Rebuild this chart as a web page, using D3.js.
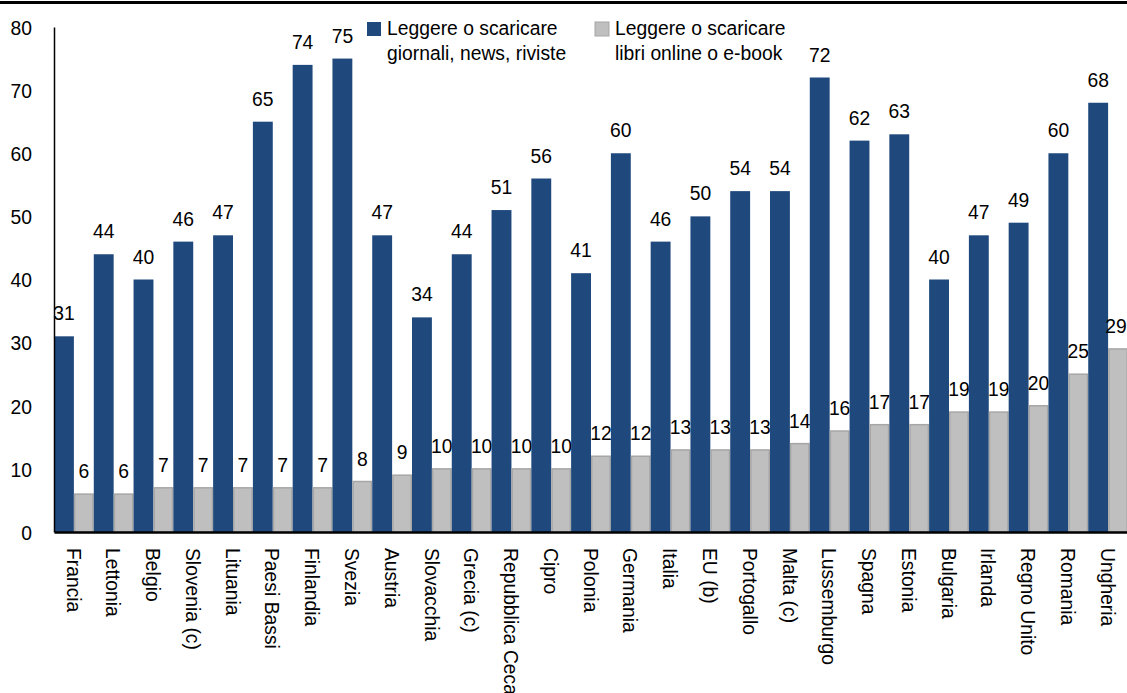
<!DOCTYPE html>
<html lang="it">
<head>
<meta charset="UTF-8">
<title>Leggere o scaricare</title>
<script src="https://d3js.org/d3.v7.min.js"></script>
<style>
  body { margin: 0; background: #fff; }
  text { font-family: "Liberation Sans", Arial, sans-serif; fill: #000; }
</style>
</head>
<body>
<script>
  const width = 1127;
  const height = 693;

  const countries = ["Francia", "Lettonia", "Belgio", "Slovenia (c)", "Lituania", "Paesi Bassi",
    "Finlandia", "Svezia", "Austria", "Slovacchia", "Grecia (c)", "Repubblica Ceca", "Cipro",
    "Polonia", "Germania", "Italia", "EU (b)", "Portogallo", "Malta (c)", "Lussemburgo",
    "Spagna", "Estonia", "Bulgaria", "Irlanda", "Regno Unito", "Romania", "Ungheria"];
  const news = [31, 44, 40, 46, 47, 65, 74, 75, 47, 34, 44, 51, 56, 41, 60, 46, 50, 54, 54, 72,
    62, 63, 40, 47, 49, 60, 68];
  const books = [6, 6, 7, 7, 7, 7, 7, 8, 9, 10, 10, 10, 10, 12, 12, 13, 13, 13, 14, 16,
    17, 17, 19, 19, 20, 25, 29];
  const seriesNames = ["Leggere o scaricare|giornali, news, riviste", "Leggere o scaricare|libri online o e-book"];
  const yTicks = [0, 10, 20, 30, 40, 50, 60, 70, 80];

  const colors = ["#1F497D", "#BFBFBF"];
  const squeeze = "scale(0.92,1)";
  const fontSize = "21px";

  const svg = d3.select("body").append("svg")
    .attr("width", width)
    .attr("height", height);

  // top rule
  svg.append("line")
    .attr("x1", 0).attr("x2", width)
    .attr("y1", 2.5).attr("y2", 2.5)
    .attr("stroke", "#000").attr("stroke-width", 3);

  const x = d3.scaleBand().domain(countries).range([54, 1128]).padding(0);
  const xs = d3.scaleBand().domain([0, 1]).range([0, x.bandwidth()]).padding(0);
  const y = d3.scaleLinear().domain([0, 80]).range([532, 27]);

  const rows = countries.map((c, i) => ({ c: c, vals: [news[i], books[i]] }));

  const groups = svg.append("g").selectAll("g")
    .data(rows)
    .enter().append("g")
    .attr("transform", d => `translate(${x(d.c)},0)`);

  groups.selectAll("rect")
    .data(d => d.vals.map((v, k) => ({ v: v, k: k })))
    .enter().append("rect")
    .attr("x", d => xs(d.k) + (d.k === 1 ? 0.75 : 0))
    .attr("width", d => xs.bandwidth() - (d.k === 1 ? 1.5 : 0))
    .attr("y", d => y(d.v))
    .attr("height", d => y(0) - y(d.v))
    .attr("fill", d => colors[d.k])
    .attr("stroke", d => d.k === 1 ? "#A6A6A6" : "none")
    .attr("stroke-width", 1.5);

  // value labels, kept inside the right edge
  groups.selectAll("text.val")
    .data(d => d.vals.map((v, k) => ({ v: v, k: k, c: d.c })))
    .enter().append("text")
    .attr("class", "val")
    .attr("transform", d => {
      let cx = xs(d.k) + xs.bandwidth() / 2;
      cx = Math.min(cx, width - 11 - x(d.c));
      return `translate(${cx},${y(d.v) - 16}) ${squeeze}`;
    })
    .attr("text-anchor", "middle")
    .style("font-size", fontSize)
    .text(d => d.v);

  // y axis
  const yAxis = svg.append("g")
    .attr("transform", "translate(54,0)")
    .call(d3.axisLeft(y).tickValues(yTicks).tickSize(0).tickSizeOuter(0));
  yAxis.select(".domain").attr("stroke", "#000").attr("stroke-width", 1.5);
  yAxis.selectAll("text")
    .attr("x", null)
    .attr("dy", "0.35em")
    .attr("transform", `translate(-22,0) ${squeeze}`)
    .style("font-size", fontSize)
    .style("font-family", "'Liberation Sans', Arial, sans-serif")
    .attr("fill", "#000");

  // x axis
  const xAxis = svg.append("g")
    .attr("transform", "translate(0,532)")
    .call(d3.axisBottom(x).tickSize(0).tickSizeOuter(0));
  xAxis.select(".domain").attr("stroke", "#000").attr("stroke-width", 2.5);
  xAxis.selectAll("text")
    .attr("y", null)
    .attr("dy", null)
    .attr("transform", `translate(0,16) rotate(90) ${squeeze}`)
    .attr("text-anchor", "start")
    .attr("dominant-baseline", "central")
    .style("font-size", fontSize)
    .style("font-family", "'Liberation Sans', Arial, sans-serif")
    .attr("fill", "#000");

  // legend
  const legendX = [367, 595];
  const legend = svg.append("g").selectAll("g")
    .data(seriesNames)
    .enter().append("g")
    .attr("transform", (d, i) => `translate(${legendX[i]},22)`);

  legend.append("rect")
    .attr("width", 14).attr("height", 14)
    .attr("fill", (d, i) => colors[i])
    .attr("stroke", (d, i) => i === 1 ? "#A6A6A6" : "none")
    .attr("stroke-width", 1);

  legend.each(function (d) {
    const lines = d.split("|");
    d3.select(this).selectAll("text")
      .data(lines)
      .enter().append("text")
      .attr("transform", (t, j) => `translate(20,${13 + j * 25}) ${squeeze}`)
      .style("font-size", fontSize)
      .text(t => t);
  });
</script>
</body>
</html>
